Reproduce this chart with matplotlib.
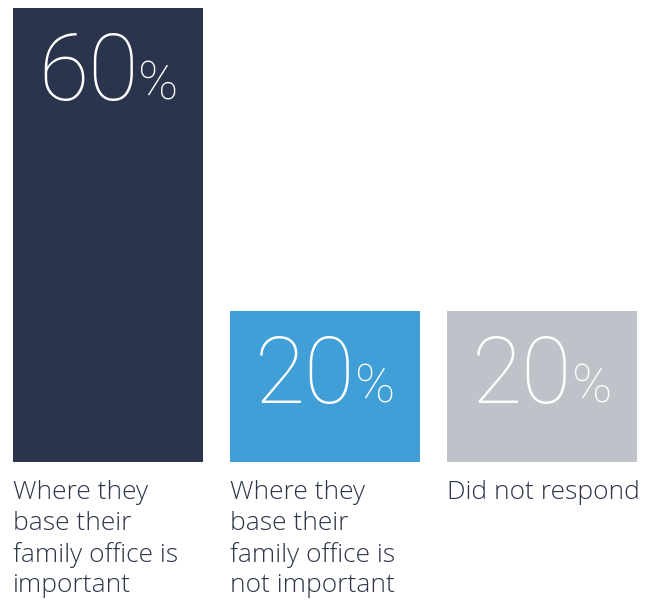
import matplotlib
matplotlib.use("Agg")
import matplotlib.pyplot as plt

# survey responses
categories = [
    "Where they\nbase their\nfamily office is\nimportant",
    "Where they\nbase their\nfamily office is\nnot important",
    "Did not respond",
]
shares = [60, 20, 20]
colors = ["#2a354d", "#419fd8", "#bfc2c8"]

fig = plt.figure(figsize=(6.57, 6.01), dpi=100)
ax = fig.add_axes([13 / 657, 139 / 601, 624 / 657, 454 / 601])

width = 0.876
x_pos = list(range(len(shares)))
ax.bar(x_pos, shares, width=width, color=colors, align="center")
ax.set_xlim(-width / 2, len(shares) - 1 + width / 2)
ax.set_ylim(0, max(shares))
ax.axis("off")

for x, val, label in zip(x_pos, shares, categories):
    left = x - width / 2
    # big number inside the top of the bar, with a small percent sign
    ax.annotate(str(val), xy=(left, val), xytext=(25, -92),
                textcoords="offset pixels", ha="left", va="baseline",
                fontsize=66, color="white", family="Roboto", weight="light")
    ax.annotate("%", xy=(left, val), xytext=(125, -92),
                textcoords="offset pixels", ha="left", va="baseline",
                fontsize=39, color="white", family="Roboto", weight="light")
    # category text under the bar
    ax.annotate(label, xy=(left, 0), xytext=(0, -18),
                textcoords="offset pixels", ha="left", va="top",
                fontsize=19, color="#2c3648", family="Open Sans",
                weight="light", linespacing=1.3)

fig.savefig("out.png", dpi=100)
